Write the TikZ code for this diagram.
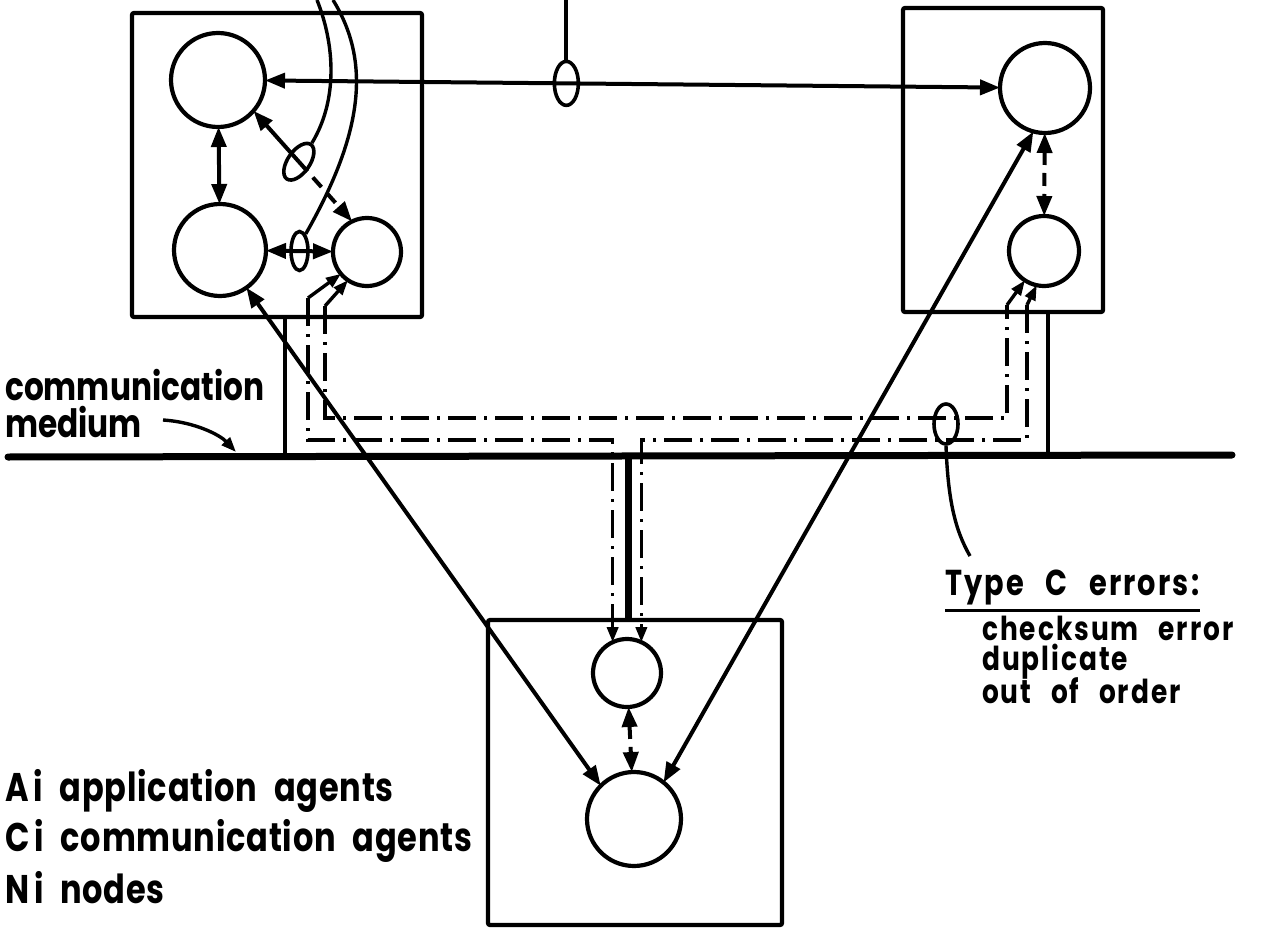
\documentclass[tikz,border=0pt]{standalone}
\usepackage{fontspec}
\setmainfont{Poppins}[FakeStretch=0.8]
\newfontfamily\legfont{Poppins}[FakeStretch=0.8, LetterSpace=2, WordSpace=2.2]
\newfontfamily\typfont{Poppins}[FakeStretch=0.8, LetterSpace=6, WordSpace=2.6]
\newfontfamily\cmfont{Poppins}[FakeStretch=0.8]
\usetikzlibrary{arrows.meta,shapes.geometric}
\begin{document}
\begin{tikzpicture}[x=1pt,y=-1pt,
  ln/.style={line width=4pt},
  thin/.style={line width=3.4pt},
  boxst/.style={draw, rectangle, line width=4.2pt, rounded corners=2pt, inner sep=0pt},
  agent/.style={circle, draw, line width=4.2pt, inner sep=0pt, outer sep=0pt},
  bubble/.style={ellipse, draw, line width=3.6pt, inner sep=0pt},
  tp/.style={-{Triangle[length=20pt,width=15pt]}},
  tps/.style={{Triangle[length=20pt,width=15pt]}-{Triangle[length=20pt,width=15pt]}},
  stp/.style={-{Triangle[length=15pt,width=11pt]}},
  dd/.style={line width=3.4pt, dash pattern=on 28pt off 8pt on 3pt off 8pt},
  brk/.style={dash pattern=on 13pt off 8pt},
  txt/.style 2 args={inner sep=0pt, anchor=base west, font=#1\bfseries\fontsize{#2}{#2}\selectfont},
]
\useasboundingbox (0,0) rectangle (1274,928);

% nodes (boxes)
\node[boxst, minimum width=290pt, minimum height=304pt] (n1) at (277,165) {};
\node[boxst, minimum width=200pt, minimum height=304pt] (n2) at (1003,160) {};
\node[boxst, minimum width=294pt, minimum height=305pt] (n3) at (635,772.5) {};

% communication medium
\coordinate (mL) at (8,457);
\coordinate (mR) at (1232,455);
\draw[line width=7pt, line cap=round] (mL) -- (mR);
\coordinate (s1) at (285,457);
\coordinate (s2) at (1048,456);
\coordinate (s3) at (628,456);
\draw[ln] (s1 |- n1.south) -- (s1);
\draw[ln] (s2 |- n2.south) -- (s2);
\draw[line width=7pt] (s3) -- (s3 |- n3.north);

% agents
\node[agent, minimum size=94pt] (a11) at (218,80) {};
\node[agent, minimum size=92pt] (a12) at (220,250) {};
\node[agent, minimum size=68pt] (c1) at (367,252) {};
\node[agent, minimum size=90pt] (a2) at (1045,88) {};
\node[agent, minimum size=70pt] (c2) at (1044,251) {};
\node[agent, minimum size=68pt] (c3) at (627,673) {};
\node[agent, minimum size=94pt] (a3) at (634,819) {};

% A11 <-> A2 with bubble
\draw[ln, tps] (a11) -- (a2);
\path (a11) -- (a2) coordinate[pos=0.41] (e1c);
\node[bubble, minimum width=24pt, minimum height=44pt] (e1) at (e1c) {};
\coordinate (top1) at (e1 |- 0,0);
\draw[ln] (e1.north) -- (top1);

% A11 <-> A12
\draw[ln, tps] (a11) -- (a12);

% A11 <-> C1 via bubble
\path (a11.-41) -- (c1.116) coordinate[pos=0.46] (e2c);
\node[bubble, minimum width=42pt, minimum height=22pt, rotate=55] (e2) at (e2c) {};
\draw[ln, tp] (e2c) -- (a11.-41);
\draw[ln, tp, brk] (e2c) -- (c1.116);

% A12 <-> C1 via bubble
\draw[ln, tps] (a12) -- (c1);
\path (a12.east) -- (c1.west) coordinate[midway] (e3c);
\node[bubble, minimum width=17pt, minimum height=39pt] (e3) at (e3c) {};

% conduit curves from the top
\coordinate (t1) at (317,0);
\coordinate (t2) at (333,0);
\draw[thin] (t1) .. controls (335,45) and (338,100) .. (e2.east);
\draw[thin] (t2) .. controls (370,60) and (365,130) .. (e3.70);

% long A links
\draw[ln, tps] (a12.-55) -- (a3.135);
\draw[ln, tps] (a2.-105) -- (a3.51);

% dashed A-C links
\draw[ln, tps, brk] (a2) -- (c2);
\draw[ln, tps, brk] (c3) -- (a3);

% dash-dot channels
\coordinate (l1) at (308,298);
\coordinate (l2) at (325,306);
\coordinate (r1) at (1007,305);
\coordinate (r2) at (1027,305);
\coordinate (yA) at (0,418);
\coordinate (yB) at (0,440);
\draw[thin, stp] (l1) -- (c1.-140);
\draw[thin, stp] (l2) -- (c1.-124);
\draw[thin, stp] (r1) -- (c2.-123);
\draw[thin, stp] (r2) -- (c2.-102);
\draw[dd] (l2) |- (r1 |- yA) -- (r1);
\draw[dd, stp] (l1) |- (c3.115 |- yB) -- (c3.115);
\draw[dd, stp] (r2) |- (c3.65 |- yB) -- (c3.65);

% Type C bubble and label
\node[bubble, minimum width=24pt, minimum height=40pt] (e4) at (946,424) {};
\node[txt={\typfont}{36}] (tc) at (945,595) {Type C errors:};
\coordinate (cE) at (970,556);
\draw[thin] (e4.south) .. controls (948,500) and (955,530) .. (cE);
\draw[thin] ([yshift=-6pt]tc.south west) -- ([yshift=-6pt]tc.south east);
\node[txt={\typfont}{33}] (tl1) at (982,640) {checksum error};
\node[txt={\typfont}{33}] (tl2) at (982,670) {duplicate};
\node[txt={\typfont}{33}] (tl3) at (982,703) {out of order};

% communication medium label
\node[txt={\cmfont}{39}] (cm1) at (5,400) {communication};
\node[txt={\cmfont}{39}] (cm2) at (5,437) {medium};
\coordinate (cmS) at (163,420);
\coordinate (cmT) at (236,452);
\draw[thin, stp] (cmS) .. controls (195,422) and (220,435) .. (cmT);

% legend
\node[txt={\legfont}{40}] (lgA) at (5,801) {A\kern5pt i application agents};
\node[txt={\legfont}{40}] (lgC) at (5,851) {C\kern5pt i communication agents};
\node[txt={\legfont}{40}] (lgN) at (5,903) {N\kern5pt i nodes};
\end{tikzpicture}
\end{document}
